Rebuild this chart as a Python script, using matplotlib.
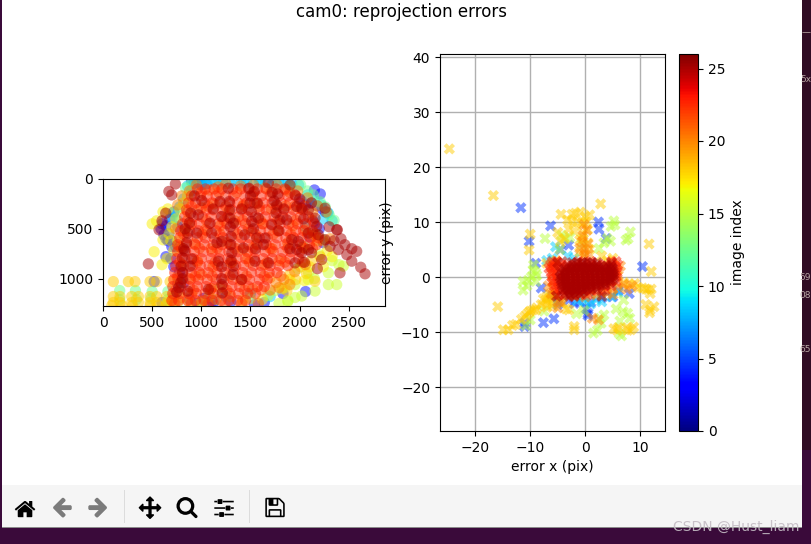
import os
import numpy as np
import matplotlib
matplotlib.use("Agg")
import matplotlib as mpl
import matplotlib.pyplot as plt
from matplotlib.patches import Rectangle
from matplotlib.cm import ScalarMappable
from matplotlib.colors import Normalize

W, H = 812, 544
TITLE = "cam0: reprojection errors"
X_LABEL = "error x (pix)"
Y_LABEL = "error y (pix)"
CBAR_LABEL = "image index"
WATERMARK = "CSDN @Hust_liam"
CBAR_TICKS = [0, 5, 10, 15, 20, 25]

# ---- left panel: observed corners (pixel x, pixel y), grouped by image index
blue_idx = 3.5
blue_x = [640,680,720,620,660,700,760,640,690,600,720,780,900,930,960,1000,1050,2020,2060,2120,2180,2230,2260,2140,2200,2100,2240,520,760,820,880,600,720,960,1120,1300,1540,1640,1830,2060,590,640,670,700,740,2150,2210,2280,1080,1130,1020]
blue_y = [470,400,330,560,620,680,480,780,800,450,880,930,20,40,30,60,50,220,260,240,270,300,330,430,500,580,640,1030,1050,1040,1210,1240,1190,1250,1250,1230,1260,1240,1150,1130,500,600,550,620,680,110,150,340,1240,1220,1200]

cyan_idx = 8.5
cyan_x = [860,930,1000,1060,1150,1220,1290,1400,1460,1530,1590,1650,1720,1790,1850,1920,1990,780,820,760,900,2080,2150,2220,2290,2330,2240,2060,1250,1500,1700,1100,1340,1600,1000,1180,1430,1760,1880,700,720]
cyan_y = [70,40,60,40,30,30,40,40,30,40,30,30,60,40,30,50,60,280,200,420,120,160,220,260,340,420,400,480,1180,1150,1180,20,20,10,20,20,20,20,30,390,340]

green_idx = 12.5
green_x = [2350,2010,2080,2140,2210,2260,2300,900,840,2160,2240,2040,780,1900,170,330,500,660,170,490,660,340]
green_y = [415,60,120,160,230,280,360,40,90,560,610,680,1050,70,1120,1120,1130,1130,1210,1200,1210,1210]

lime_idx = 15.5
lime_x = [2377,2292,2156,2021,1953,1880,2444,2292,2150,2088,1953,1850,2200,2330,2400,1790,1880,1680,1500,1750,1080,1190,760,640,2090,1980]
lime_y = [1060,1060,1125,1175,1190,1220,875,942,1000,1010,1060,1090,760,820,860,1250,1230,1170,1200,1120,1180,1090,1240,1260,940,900]

yellow_idx = 17.0
yellow_x = [500,545,610,660,520,610,670,700,740,780,820,860,600,650,720,690,760,830,2180,2280,2330,2100,2240,1000,1150,1420,1620,1820,1900,2050]
yellow_y = [450,420,330,300,730,610,550,480,400,300,240,170,860,800,720,620,620,520,620,720,780,880,880,1230,1210,1220,1210,1100,1010,1020]

gold_idx = 18.0
gold_x = [105,258,326,478,546,682,105,173,292,360,478,546,648,716,105,173,292,360,478,546,648,716,90,190,300,480,560,650,2156,2070,1960,1870,800,880,1000,1900,2010,2120,2210]
gold_y = [1030,1030,1030,1030,1030,1030,1180,1180,1180,1180,1180,1180,1180,1180,1240,1240,1240,1240,1240,1240,1240,1240,1270,1270,1270,1270,1270,1270,1026,950,1010,1120,1190,1240,1250,960,880,820,780]

orange_idx = 20.2
orange_x = [800,880,950,1080,1170,1250,1400,1530,1650,1770,1860,1980,2080,2180,2270,760,860,1000,1130,1280,1430,1560,1710,1860,2010,2130,740,880,1040,1190,1340,1480,1630,1780,1930,2060,780,930,1100,1260,1420,1560,1720,1880,2030,800,960,1120,1300,1470,1640,1790,2140,2240,2310,760,880,1000,1400,1700,900,1100,1300,1520,1760,1840,1950,2060,1790,1900]
orange_y = [170,120,60,110,80,50,70,60,90,60,110,120,190,270,330,260,330,290,250,320,260,240,300,270,300,340,500,460,510,470,420,500,450,520,470,510,680,650,700,640,710,650,700,640,690,860,820,880,840,800,860,820,560,620,600,1000,1000,960,1020,990,1160,1100,1180,1100,1040,1010,930,860,1090,1060]

red2_idx = 21.0
red2_rows_y = [135,275,415,555,695,835,975,1115,1250]
red2_rows_x = [
    [1000,1180,1360,1530,1710,1900],
    [900,1070,1250,1420,1590,1770,1950,2050],
    [860,1050,1230,1420,1600,1780,1960,2130],
    [820,1010,1190,1370,1550,1730,1910,2080,2160],
    [800,980,1160,1340,1520,1700,1880,2050,2130],
    [780,960,1140,1310,1490,1670,1850,2030],
    [760,940,1110,1290,1460,1640,1810],
    [740,920,1090,1260,1440,1610,1700],
    [730,900,1070,1240,1410,1580],
]

red_idx = 22.8
red_rows_y = [100,170,240,310,380,450,520,590,660,730,800,870,940,1010,1080,1150,1220]
red_rows_x = [
    [960,1040,1130,1210,1320,1400,1480,1570,1660,1760,1850],
    [900,990,1060,1150,1250,1330,1440,1520,1610,1700,1790,1880,1960],
    [870,940,1030,1110,1190,1290,1370,1460,1540,1630,1720,1810,1900,2000],
    [850,960,1050,1120,1220,1310,1410,1480,1590,1660,1760,1840,1940,2030],
    [830,920,1010,1100,1200,1270,1380,1470,1550,1650,1740,1830,1910,2010,2090],
    [810,900,980,1080,1170,1260,1350,1450,1530,1620,1710,1800,1890,1980,2060,2150],
    [790,880,970,1060,1150,1230,1330,1420,1510,1600,1690,1780,1870,1960,2040,2130],
    [780,860,960,1040,1130,1220,1310,1410,1490,1590,1670,1770,1860,1940,2020,2110,2190],
    [760,850,940,1030,1120,1210,1290,1390,1480,1570,1660,1750,1850,1930,2010,2100,2170],
    [760,840,930,1020,1110,1190,1280,1370,1470,1550,1650,1730,1830,1910,2000],
    [750,830,920,1000,1100,1180,1270,1360,1450,1540,1630,1720,1810,1900,1990],
    [740,820,910,990,1080,1170,1260,1350,1430,1530,1610,1700,1790,1880],
    [730,810,900,980,1070,1160,1240,1330,1420,1510,1600,1690,1770],
    [720,800,890,970,1060,1150,1230,1320,1410,1490,1590,1670],
    [710,790,880,960,1050,1130,1220,1310,1390,1480,1570,1640],
    [710,780,870,950,1040,1120,1210,1290,1380,1470,1550],
    [700,770,860,940,1030,1110,1200,1280,1370,1450],
]

dark_idx = 25.0
dark_x = [929,1004,1089,1190,1285,1275,1485,1539,1682,1722,1777,1902,1953,2021,2089,2258,892,970,1207,1292,1495,1570,1767,1800,1868,1970,2156,2173,2377,861,953,1105,1207,1302,1326,1512,1580,1563,1648,1716,1919,1987,2089,2258,2309,2394,807,902,1173,1302,1428,1546,1682,1631,1953,2048,1970,2089,2224,794,885,1207,1326,750,861,1072,1214,1411,736,699,638,570,461,2665,2621,2580,2530,2460,2420,2383,2410,2530,2480,670,600,835,820,810,1208,1210,1320,880,850,830,810,790,770,1290,1295,1300,1310,1500,1510,1530,1550,1740,1760,1790,2000,2040,2120,2190,2300,2350,1120,1160,1410,1440,1840,1900,2020,2120,2180]
dark_y = [170,216,443,226,226,93,93,126,37,136,150,60,160,293,310,293,343,360,376,393,243,243,260,410,410,276,393,476,510,543,543,543,626,576,443,426,393,593,593,460,609,626,543,609,676,709,792,802,826,816,693,826,842,659,842,836,709,709,809,876,876,882,876,1135,1125,1109,1142,1009,50,160,343,510,852,952,886,726,700,660,600,510,942,825,760,125,420,500,700,1000,1000,1060,960,440,640,720,940,1040,1090,310,480,660,740,170,330,500,700,220,340,520,200,400,240,560,480,620,300,640,300,560,300,700,740,740,900]

# ---- right panel: reprojection errors (pix), grouped by image index
e_blue_idx = 4.5
e_blue_x = [-11.7,-10.2,-6.3,10.4,-7.6,-5.7,-11,-11,0.5,0.5,-3,2.4,3.8,-5,-9,-8,-6,-5,-3,-1,1,3,5,6,8,-2,0.2,2.5,-4.5]
e_blue_y = [12.6,6.5,9.3,1.9,-8.3,-7.6,-9,-8.4,-6.6,-7,5.8,10,7,-5,2.5,-2,-3.5,-4.5,-4.2,-4.5,-4.6,-3.8,-3.6,-2.5,-3,-4.8,-5.8,8.7,5]

e_cyan_idx = 8.5
e_cyan_x = [-5.4,-1.5,0,1,2,-0.5,3,-7,-6,4.8,6,-3.2,-2]
e_cyan_y = [5.5,-4.3,-4.5,-4.9,-4.1,-3.8,-4.5,3,3.4,-3.6,-2.8,3.8,3.4]

e_lime_idx = 15.0
e_lime_x = [5.2,5.4,4.7,8.2,7.8,7.4,-7.3,-4.3,-3.6,-9.5,-9.4,-9,-9.8,-10.4,-11.3,-11.3,-10.6,-9,-8.8,1.5,2.2,6.6,6.2,6.9,7.7,8.1,5.6,2.7,2.9,3.4,-1.6,-0.2,-7.5,4,4.6,3.4,2.5,-10,-10.8,6.3,7,-2.8,-0.6,-4.6]
e_lime_y = [10.2,9.5,9.2,8.2,7,6.7,7,7.6,7,1.3,2.2,0.8,0,-0.6,-0.8,-2.4,-1.6,-0.8,0.3,-10.2,-9.7,-10.7,-10.3,-6.3,-6.6,-7.5,-5.8,-7.5,-8.4,-6.9,-6.7,-6.1,-6.2,7,6.5,6.2,5.2,-7.8,-8.8,-8,-4.2,7.2,6,5]

e_gold_idx = 18.0
e_gold_x = [-24.7,-16.7,-15.9,-14.9,-14,-2,-2,2.8,-4.4,11.6,12,-10,-10.2,-12.6,-13.2,-11.6,-11,-10.6,-10.2,-10,-9.5,-9,-8.8,7,8,9,9.6,10.4,11,11.4,12,11.8,11,11.8,12.5,11.7,6,5.8,5.2,7.6,8.8,8.3,7.7,-2.4,-1.8,-0.9,0,0.8,-3.2,-2.4,-1.4,-0.6,0.2,-3,-2,-0.5,0.4,-1,-0.3,0.5,-3.8,-4.5,-5,-7.6,-6.5,-6.9,-7.2,-7,-6,-7,-5.8,-5.3,4,5,3,-1,0.8,-8,-7,-5.8,-6.4,-5.5,-4.2,-3.5,-3]
e_gold_y = [23.3,14.8,-5.4,-9.6,-9.6,-9.6,-9,13.3,11.4,6,1,7.8,4.9,-8.6,-8.8,-7.7,-7.2,-6.8,-6.4,-6.2,-6,-6,-5.6,-1,-1.3,-1.2,-1.9,-2,-2.2,-2.3,-2.2,-3,-5,-6,-5.4,-6.5,-9.2,-9.7,-9.4,-9.2,-9.1,-9.6,-9.7,11.4,11.6,11.8,11,11.3,10.4,10.1,10,9.8,10,8.7,8.4,8,8.6,6.7,6.9,6.2,7,6.5,8.1,-4,-3.8,-4.8,-4.2,-3.6,-4.9,2.5,2.2,3,3,3.4,3.8,4.5,5,-5,-5.5,-5.3,-3.2,-3.3,-4.7,-5.8,-6]

e_olive_idx = 20.0
e_olive_x = [-5.5,-4.5,-3,-2,-1,0,1,2,3,4,5,6,-6,-5.8,-6,5.8,6.4,6,7,7.6,8.5,-1,-0.2,0.5,0,-0.6,0.6,-5,-4.6,-0.2,4,5,1.3,2.4,-0.4,0.3,-0.2,-6.2,-6.7]
e_olive_y = [-3.3,-4,-3.2,-3.5,-3.2,-3.6,-3,-3.3,-2.8,-2.9,-2.2,-1.8,-1,-2,0.5,1.2,2,0.3,-1.3,-2.2,-1.6,5.2,3.8,6,5,6.4,4.2,-5.6,-4.5,4.4,-0.8,-3.2,-7.5,-7.8,7.5,8.5,9.5,-3,-1.6]

e_red_idx = 22.8
e_red_rows_y = [2.8,2.2,1.6,0.8,0,-0.8,-1.6,-2.4,-3.2]
e_red_rows_x = [
    [-6,-5.2,-4.2,-1.2,1,4.8,5.6],
    [-6.3,-5.6,-4.4,-3.1,-1.8,-0.4,1,2.2,3.6,4.9,5.9],
    [-6.6,-5.8,-4.8,-3.4,-2.1,-0.8,0.5,1.8,3.1,4.4,5.5],
    [-6.2,-5.4,-4,-2.7,-1.3,0.1,1.4,2.7,4,5.2,5.8],
    [-6.1,-5.2,-3.9,-2.6,-1.2,0.2,1.6,2.9,4.3,5.6],
    [-5.9,-5,-3.7,-2.2,-0.8,0.6,2,3.3,4.6,5.6],
    [-5.6,-4.7,-3.4,-2,-0.6,0.8,2.1,3.4,4.7],
    [-5.3,-4.4,-3,-1.7,-0.4,1,2.3,3.6],
    [-4.8,-3.8,-2.4,-1,0.4],
]

e_dark_idx = 25.0
e_dark_rows_y = [2.6,2.0,1.5,1.0,0.5,0,-0.5,-1,-1.5,-2,-2.5,-3,-3.5]
e_dark_rows_x = [
    [-2.4,-1.5,-0.6,0.4,1.3,2.2,-5,4.8,-0.3],
    [-3.2,-2.4,-1.5,-0.6,0.3,1.2,2.1,3,3.9,4.7],
    [-3.7,-2.9,-2,-1.1,-0.2,0.7,1.6,2.5,3.4,4.3,5],
    [-4.5,-3.6,-2.7,-1.8,-0.9,0,0.9,1.8,2.7,3.6,4.5,5.1],
    [-4.2,-3.5,-2.6,-1.7,-0.8,0.1,1,1.9,2.8,3.7,4.6,5.2],
    [-4.6,-3.7,-2.8,-1.9,-1,-0.1,0.8,1.7,2.6,3.5,4.4,5.2],
    [-4.4,-3.6,-2.7,-1.8,-0.9,0,0.9,1.8,2.7,3.6,4.5,5],
    [-4.3,-3.5,-2.6,-1.7,-0.8,0.1,1,1.9,2.8,3.7,4.5],
    [-4.2,-3.4,-2.5,-1.6,-0.7,0.2,1.1,2,2.9,3.6],
    [-4,-3.2,-2.3,-1.4,-0.5,0.4,1.3,2.2],
    [-3.8,-2.9,-2,-1.1,-0.2,0.7],
    [-3.5,-2.6,-1.7,-0.8],
    [-2.9,-2,-5.2,3],
]


def expand(ys, rows):
    xs_out, ys_out = [], []
    for y, xs in zip(ys, rows):
        xs_out += xs
        ys_out += [y] * len(xs)
    return xs_out, ys_out


red_x, red_y = expand(red_rows_y, red_rows_x)
red2_x, red2_y = expand(red2_rows_y, red2_rows_x)
e_red_x, e_red_y = expand(e_red_rows_y, e_red_rows_x)
e_dark_x, e_dark_y = expand(e_dark_rows_y, e_dark_rows_x)

left_groups = [(blue_idx, blue_x, blue_y), (cyan_idx, cyan_x, cyan_y), (green_idx, green_x, green_y),
               (lime_idx, lime_x, lime_y), (yellow_idx, yellow_x, yellow_y), (gold_idx, gold_x, gold_y),
               (orange_idx, orange_x, orange_y), (red2_idx, red2_x, red2_y), (red_idx, red_x, red_y),
               (dark_idx, dark_x, dark_y)]
right_groups = [(e_blue_idx, e_blue_x, e_blue_y), (e_cyan_idx, e_cyan_x, e_cyan_y), (e_lime_idx, e_lime_x, e_lime_y),
                (e_gold_idx, e_gold_x, e_gold_y), (e_olive_idx, e_olive_x, e_olive_y), (e_red_idx, e_red_x, e_red_y),
                (e_dark_idx, e_dark_x, e_dark_y)]


def flatten(groups):
    xs, ys, cs = [], [], []
    for i, gx, gy in groups:
        n = min(len(gx), len(gy))
        xs += list(gx[:n]); ys += list(gy[:n]); cs += [i] * n
    return xs, ys, cs


def box(l, t, r, b):
    return [l / W, 1 - b / H, (r - l) / W, (b - t) / H]


def rect(l, t, r, b, color, z=-10):
    fig.add_artist(Rectangle((l / W, 1 - b / H), (r - l) / W, (b - t) / H, transform=fig.transFigure,
                             facecolor=color, edgecolor="none", zorder=z))


fig = plt.figure(figsize=(W / 100, H / 100), dpi=100, facecolor="#3a0a3a")
rect(802, 0, 812, 450, "#300c24")
rect(0, 0, 2, 527, "#3a0a3a")
rect(2, 0, 802, 485, "#ffffff")
rect(2, 485, 802, 527, "#f5f5f5")
rect(2, 527, 802, 528, "#8a8a8a")
rect(124, 490, 125, 523, "#dcdcdc")
rect(249, 490, 250, 523, "#dcdcdc")

norm = Normalize(0, 26)

ax1 = fig.add_axes(box(103, 179, 385, 306))
x, y, c = flatten(left_groups)
ax1.scatter(x, y, c=c, cmap="jet", norm=norm, s=66, alpha=0.5, linewidths=0)
ax1.set_xlim(0, 2868)
ax1.set_ylim(1275, 0)
ax1.set_xticks([0, 500, 1000, 1500, 2000, 2500])
ax1.set_yticks([0, 500, 1000])

ax2 = fig.add_axes(box(440, 54, 665, 431))
x, y, c = flatten(right_groups)
ax2.scatter(x, y, c=c, cmap="jet", norm=norm, s=66, alpha=0.5, linewidths=0, marker="X", zorder=3)
ax2.set_xlim(-26.4, 14.5)
ax2.set_ylim(-28, 40.55)
ax2.set_xticks([-20, -10, 0, 10])
ax2.set_yticks([-20, -10, 0, 10, 20, 30, 40])
ax2.grid(True, color="#b0b0b0", linewidth=1.0, zorder=0)
ax2.set_axisbelow(True)
ax2.set_xlabel(X_LABEL)
ax2.set_ylabel(Y_LABEL, labelpad=5)

cax = fig.add_axes(box(679, 54, 698, 431))
cb = fig.colorbar(ScalarMappable(norm=norm, cmap="jet"), cax=cax)
cb.set_ticks(CBAR_TICKS)
cb.set_label(CBAR_LABEL)

fig.text(401.5 / W, 1 - 12 / H, TITLE, ha="center", va="center", fontsize=12)

# toolbar icons shipped with matplotlib
icons = [("home", 25, 1.0), ("back", 62, 0.5), ("forward", 98, 0.5), ("move", 150, 1.0),
         ("zoom_to_rect", 187, 1.0), ("subplots", 224, 1.0), ("filesave", 275, 1.0)]
img_dir = os.path.join(mpl.get_data_path(), "images")
for name, cx, al in icons:
    p = os.path.join(img_dir, name + ".png")
    if os.path.exists(p):
        im = plt.imread(p)
        fig.figimage(im, xo=cx - im.shape[1] // 2, yo=H - 507 - im.shape[0] // 2, alpha=al, zorder=5, origin="upper")

# what shows through behind the window
term = "#b9a8a6"
for label, yp in [("—", 33), ("5x", 79), ("59", 277), ("08", 295), ("65", 349)]:
    fig.text(811 / W, 1 - yp / H, label, color=term, fontsize=6.5, ha="right", va="center")
fig.text(736 / W, 1 - 527 / H, WATERMARK, color="#c4bcc4", fontsize=10, ha="center", va="center", alpha=0.9)

fig.savefig("out.png", dpi=100, facecolor=fig.get_facecolor())
